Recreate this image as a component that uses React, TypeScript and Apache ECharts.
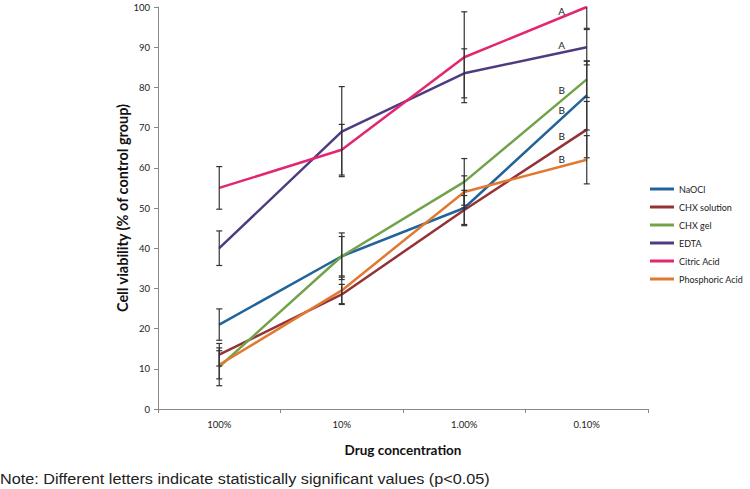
import React, { useEffect, useRef } from "react";
import * as echarts from "echarts";

const categories = ["100%", "10%", "1.00%", "0.10%"];
const seriesNames = ["NaOCl", "CHX solution", "CHX gel", "EDTA", "Citric Acid", "Phosphoric Acid"];
const naocl = [21, 38, 50, 78];
const chxSolution = [13.5, 28.5, 49.5, 69.5];
const chxGel = [10.5, 38, 56.5, 82];
const edta = [40, 69, 83.5, 90];
const citric = [55, 64.5, 87.5, 100];
const phosphoric = [11, 29.5, 54, 62];

const naoclErr = [3.9, 5.8, 4.4, 8.6];
const chxSolutionErr = [2.8, 2.5, 3.6, 7];
const chxGelErr = [4.7, 4.9, 5.8, 4.5];
const edtaErr = [4.3, 11.2, 6.1, 4.4];
const citricErr = [5.3, 6.3, 11.3, 5.3];
const phosphoricErr = [3.5, 3.3, 4, 6];

const letters = ["B", "B", "B", "A", "A", "B"];
const yTicks = { min: 0, max: 100, interval: 10 };

const colors = ["#22639a", "#953238", "#72a34a", "#4f3b80", "#e22770", "#e07a31"];
const letterOffsets = [[-25, 15], [-25, 6], [-25, 11], [-25, -2], [-25, 4], [-25, -1]];

export default function App() {
  const ref = useRef<HTMLDivElement>(null);
  useEffect(() => {
    if (!ref.current) return;
    const chart = echarts.init(ref.current, undefined, { renderer: "svg" });
    const values = [naocl, chxSolution, chxGel, edta, citric, phosphoric];
    const errs = [naoclErr, chxSolutionErr, chxGelErr, edtaErr, citricErr, phosphoricErr];
    const font = "Lato, 'Liberation Sans', sans-serif";

    const lineSeries = values.map((vals, si) => ({
      name: seriesNames[si],
      type: "line",
      data: vals.map((v, i) =>
        i === vals.length - 1
          ? {
              value: v,
              label: {
                show: true,
                formatter: letters[si],
                position: "inside",
                offset: letterOffsets[si],
                color: "#222",
                fontSize: 10,
                fontFamily: font,
              },
            }
          : v
      ),
      symbol: "circle",
      symbolSize: 1,
      showSymbol: true,
      lineStyle: { width: 2.5, color: colors[si] },
      itemStyle: { color: colors[si] },
      color: colors[si],
      z: 2,
    }));

    const errData: number[][] = [];
    values.forEach((vals, si) => {
      vals.forEach((v, i) => {
        errData.push([i, v - errs[si][i], v + errs[si][i]]);
      });
    });

    const errSeries = {
      type: "custom",
      name: "err",
      data: errData,
      encode: { x: 0, y: [1, 2] },
      clip: true,
      z: 3,
      silent: true,
      renderItem: (params: any, api: any) => {
        const x = api.value(0);
        const lo = api.coord([x, api.value(1)]);
        const hi = api.coord([x, api.value(2)]);
        const w = 3;
        const style = { stroke: "#333", lineWidth: 1.2 };
        return {
          type: "group",
          children: [
            { type: "line", shape: { x1: lo[0], y1: lo[1], x2: hi[0], y2: hi[1] }, style },
            { type: "line", shape: { x1: lo[0] - w, y1: lo[1], x2: lo[0] + w, y2: lo[1] }, style },
            { type: "line", shape: { x1: hi[0] - w, y1: hi[1], x2: hi[0] + w, y2: hi[1] }, style },
          ],
        };
      },
    };

    chart.setOption({
      animation: false,
      backgroundColor: "#ffffff",
      grid: { left: 158, right: 102, top: 7, bottom: 80, containLabel: false },
      legend: {
        data: seriesNames,
        orient: "vertical",
        left: 650,
        top: 182,
        padding: 0,
        icon: "rect",
        itemWidth: 24,
        itemHeight: 3,
        itemGap: 4,
        textStyle: { fontSize: 9, fontFamily: font, color: "#222", lineHeight: 14 },
      },
      xAxis: {
        type: "category",
        data: categories,
        boundaryGap: true,
        name: "Drug concentration",
        nameLocation: "middle",
        nameGap: 34,
        nameTextStyle: { fontSize: 13.5, fontWeight: "bold", color: "#111", fontFamily: font },
        axisLine: { lineStyle: { color: "#888", width: 1 } },
        axisTick: { show: true, length: 4, lineStyle: { color: "#888" } },
        axisLabel: { fontSize: 9.5, color: "#222", margin: 10, fontFamily: font },
        splitLine: { show: false },
      },
      yAxis: {
        type: "value",
        min: yTicks.min,
        max: yTicks.max,
        interval: yTicks.interval,
        name: "Cell viability (% of control group)",
        nameLocation: "middle",
        nameGap: 28,
        nameMoveOverlap: false,
        nameTextStyle: { fontSize: 14.5, fontWeight: "bold", color: "#111", fontFamily: font },
        axisLine: { show: true, lineStyle: { color: "#888", width: 1 } },
        axisTick: { show: true, length: 4, lineStyle: { color: "#888" } },
        axisLabel: { fontSize: 9.5, color: "#222", margin: 8, fontFamily: font },
        splitLine: { show: false },
      },
      graphic: [
        {
          type: "text",
          left: 0,
          top: 471,
          scaleX: 1.12,
          style: {
            text: "Note: Different letters indicate statistically significant values (p<0.05)",
            fontSize: 14.5,
            fontFamily: "'Liberation Sans', Arial, sans-serif",
            fill: "#222",
          },
        },
      ],
      series: [...lineSeries, errSeries],
    });
    return () => chart.dispose();
  }, []);
  return (
    <div
      ref={ref}
      style={{ position: "absolute", left: 0, top: 0, width: 750, height: 489 }}
    />
  );
}
